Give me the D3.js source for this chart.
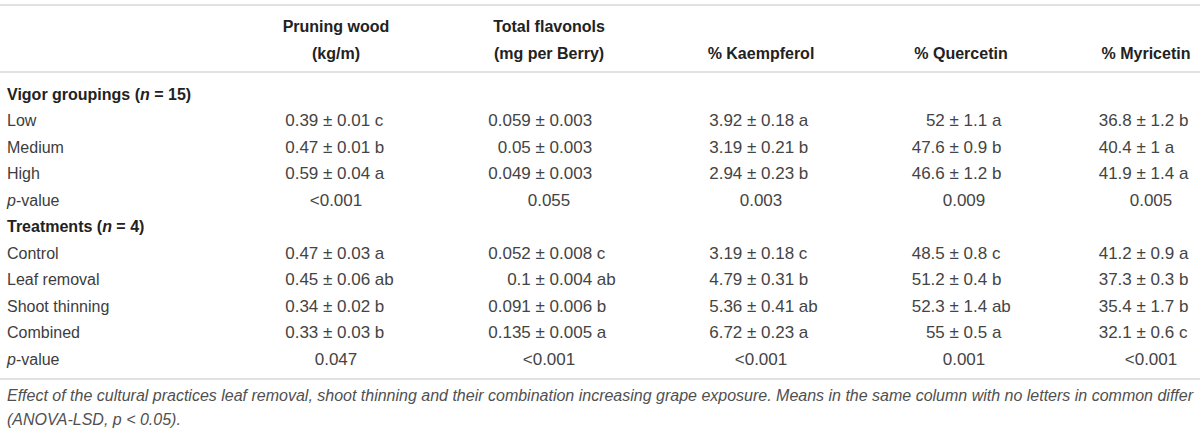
<!DOCTYPE html>
<html>
<head>
<meta charset="utf-8">
<script src="https://cdn.jsdelivr.net/npm/d3@7"></script>
<style>
  body { margin: 0; background: #fff; }
  svg { display: block; font-family: "Liberation Sans", Arial, sans-serif; }
  .head { font-weight: bold; font-size: 16px; fill: #222; }
  .label { font-size: 16px; fill: #3d3d3d; }
  .cell { font-size: 17px; fill: #444; }
  .caption { font-size: 16px; font-style: italic; fill: #505050; }
</style>
</head>
<body>
<div class="chart"></div>
<script>
// column titles (one or two lines each)
var columnTitles = [
  ["Pruning wood", "(kg/m)"],
  ["Total flavonols", "(mg per Berry)"],
  ["% Kaempferol"],
  ["% Quercetin"],
  ["% Myricetin"]
];

// vigor groupings: [mean, sd, letters]
var vigorLevels = ["Low", "Medium", "High"];
var vigorPruning = [[0.39, 0.01, "c"], [0.47, 0.01, "b"], [0.59, 0.04, "a"]];
var vigorFlavonols = [[0.059, 0.003, ""], [0.05, 0.003, ""], [0.049, 0.003, ""]];
var vigorKaempferol = [[3.92, 0.18, "a"], [3.19, 0.21, "b"], [2.94, 0.23, "b"]];
var vigorQuercetin = [[52, 1.1, "a"], [47.6, 0.9, "b"], [46.6, 1.2, "b"]];
var vigorMyricetin = [[36.8, 1.2, "b"], [40.4, 1, "a"], [41.9, 1.4, "a"]];
var vigorP = ["<0.001", "0.055", "0.003", "0.009", "0.005"];

// treatments
var treatmentLevels = ["Control", "Leaf removal", "Shoot thinning", "Combined"];
var treatPruning = [[0.47, 0.03, "a"], [0.45, 0.06, "ab"], [0.34, 0.02, "b"], [0.33, 0.03, "b"]];
var treatFlavonols = [[0.052, 0.008, "c"], [0.1, 0.004, "ab"], [0.091, 0.006, "b"], [0.135, 0.005, "a"]];
var treatKaempferol = [[3.19, 0.18, "c"], [4.79, 0.31, "b"], [5.36, 0.41, "ab"], [6.72, 0.23, "a"]];
var treatQuercetin = [[48.5, 0.8, "c"], [51.2, 0.4, "b"], [52.3, 1.4, "ab"], [55, 0.5, "a"]];
var treatMyricetin = [[41.2, 0.9, "a"], [37.3, 0.3, "b"], [35.4, 1.7, "b"], [32.1, 0.6, "c"]];
var treatP = ["0.047", "<0.001", "<0.001", "0.001", "<0.001"];

var captionLines = [
  "Effect of the cultural practices leaf removal, shoot thinning and their combination increasing grape exposure. Means in the same column with no letters in common differ",
  "(ANOVA-LSD, p < 0.05)."
];

var svgWidth = 1200;
var svgHeight = 431;

var svg = d3.select(".chart")
  .append("svg")
  .attr("width", svgWidth)
  .attr("height", svgHeight);

// build the row list from the arrays
var rows = [];
rows.push({ type: "group", name: "Vigor groupings", n: 15 });
vigorLevels.forEach(function(lev, i) {
  rows.push({ type: "data", name: lev,
    cells: [vigorPruning[i], vigorFlavonols[i], vigorKaempferol[i], vigorQuercetin[i], vigorMyricetin[i]] });
});
rows.push({ type: "p", cells: vigorP });
rows.push({ type: "group", name: "Treatments", n: 4 });
treatmentLevels.forEach(function(lev, i) {
  rows.push({ type: "data", name: lev,
    cells: [treatPruning[i], treatFlavonols[i], treatKaempferol[i], treatQuercetin[i], treatMyricetin[i]] });
});
rows.push({ type: "p", cells: treatP });

// row baselines
var y = d3.scalePoint()
  .domain(d3.range(rows.length))
  .range([99.5, 364.5]);

// column centres and the x of the "±" sign in each column
var colIdx = d3.range(columnTitles.length);
var colCenter = d3.scaleOrdinal().domain(colIdx).range([336, 549, 761, 961, 1146]);
var pValueX = d3.scaleOrdinal().domain(colIdx).range([336, 549, 761, 964, 1151]);
var pmX = d3.scaleOrdinal().domain(colIdx).range([328, 540.5, 752, 954.5, 1141.5]);

// rules
var rules = [5, 72, 379];
svg.selectAll("line.rule")
  .data(rules)
  .enter()
  .append("line")
  .attr("class", "rule")
  .attr("x1", 0)
  .attr("x2", svgWidth)
  .attr("y1", d => d)
  .attr("y2", d => d)
  .attr("stroke", "#e1e1e1")
  .attr("stroke-width", 2);

// header
var header = svg.append("g");
columnTitles.forEach(function(lines, c) {
  var t = header.append("text")
    .attr("class", "head")
    .attr("text-anchor", "middle");
  var baselines = lines.length === 2 ? [32, 59] : [59];
  lines.forEach(function(line, k) {
    t.append("tspan")
      .attr("x", colCenter(c))
      .attr("y", baselines[k])
      .text(line);
  });
});

// body rows
var body = svg.append("g");
rows.forEach(function(row, r) {
  var by = y(r);
  if (row.type === "group") {
    var g = body.append("text").attr("class", "head").attr("x", 7).attr("y", by);
    g.append("tspan").text(row.name + " (");
    g.append("tspan").style("font-style", "italic").text("n");
    g.append("tspan").text(" = " + row.n + ")");
  } else if (row.type === "data") {
    body.append("text").attr("class", "label").attr("x", 7).attr("y", by).text(row.name);
    row.cells.forEach(function(cell, c) {
      body.append("text")
        .attr("class", "cell")
        .attr("text-anchor", "end")
        .attr("x", pmX(c) - 9.7)
        .attr("y", by)
        .text(String(cell[0]));
      body.append("text")
        .attr("class", "cell")
        .attr("x", pmX(c) - 5)
        .attr("y", by)
        .text("\u00b1 " + cell[1] + (cell[2] ? " " + cell[2] : ""));
    });
  } else {
    var pl = body.append("text").attr("class", "label").attr("x", 7).attr("y", by);
    pl.append("tspan").style("font-style", "italic").text("p");
    pl.append("tspan").text("-value");
    row.cells.forEach(function(val, c) {
      body.append("text")
        .attr("class", "cell")
        .attr("text-anchor", "middle")
        .attr("x", pValueX(c))
        .attr("y", by)
        .text(val);
    });
  }
});

// caption, first line justified
var capY = [401, 425];
captionLines.forEach(function(line, k) {
  var t = svg.append("text")
    .attr("class", "caption")
    .attr("x", 7)
    .attr("y", capY[k])
    .text(line);
  if (k === 0) {
    var natural = t.node().getComputedTextLength();
    var gaps = line.split(" ").length - 1;
    t.attr("word-spacing", ((1193 - 7) - natural) / gaps);
  }
});
</script>
</body>
</html>
